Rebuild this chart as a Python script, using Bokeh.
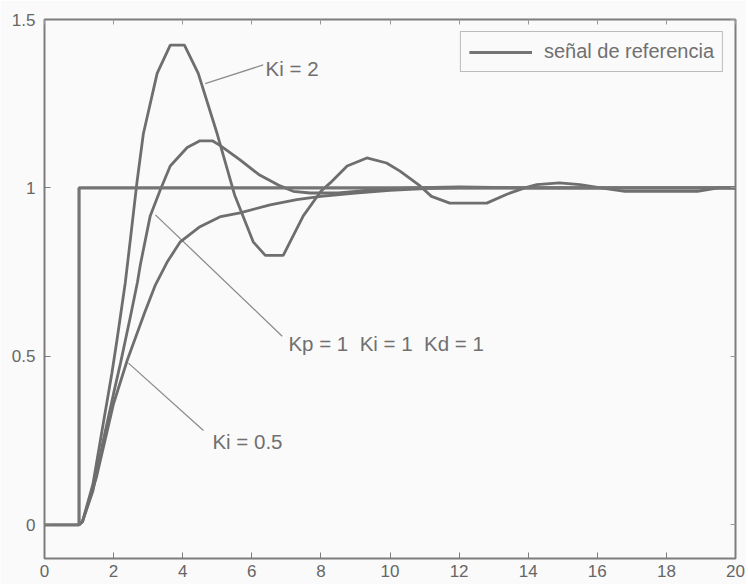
from bokeh.plotting import figure
from bokeh.models import LinearAxis, Range1d, FixedTicker, Legend, LegendItem
from bokeh.core.properties import value
from bokeh.embed import file_html
from bokeh.resources import INLINE

# ---- data ----
ref_t = [0, 1, 1, 20]
ref_y = [0, 0, 1, 1]

ki2_t = [1.0, 1.1, 1.4, 1.65, 1.95, 2.1, 2.34, 2.5, 2.68, 2.86, 3.26, 3.64, 4.05, 4.45,
         5.0, 5.5, 6.04, 6.39, 6.91, 7.49, 8.0, 8.27, 8.76, 9.33, 9.9, 10.29, 10.87, 11.2,
         11.73, 12.8, 13.4, 13.9, 14.25, 14.9, 15.5, 16.1, 16.8, 18.9, 19.5, 20.0]
ki2_y = [0.0, 0.01, 0.12, 0.27, 0.45, 0.55, 0.72, 0.86, 1.02, 1.16, 1.34, 1.424, 1.424, 1.34,
         1.16, 0.98, 0.84, 0.80, 0.80, 0.917, 0.99, 1.015, 1.065, 1.089, 1.074, 1.05, 1.006, 0.975,
         0.955, 0.955, 0.982, 1.0, 1.01, 1.015, 1.01, 1.0, 0.99, 0.99, 1.0, 1.0]

ki1_t = [1.0, 1.1, 1.4, 1.7, 2.0, 2.2, 2.49, 2.69, 2.77, 3.06, 3.35, 3.64, 4.13, 4.5, 4.86,
         5.1, 5.66, 6.2, 6.82, 7.2, 7.69, 8.5, 9.0, 9.5, 10.5, 12.0, 14.0, 20.0]
ki1_y = [0.0, 0.01, 0.1, 0.25, 0.39, 0.48, 0.62, 0.72, 0.77, 0.917, 0.994, 1.065, 1.12, 1.14, 1.14,
         1.125, 1.083, 1.04, 1.006, 0.99, 0.985, 0.985, 0.99, 0.995, 1.0, 1.003, 1.0, 1.0]

ki05_t = [1.0, 1.1, 1.5, 2.0, 2.4, 2.9, 3.2, 3.55, 3.93, 4.5, 5.1, 5.66, 6.53, 7.3, 8.0,
          9.0, 10.0, 11.0, 12.0, 20.0]
ki05_y = [0.0, 0.01, 0.14, 0.36, 0.49, 0.63, 0.71, 0.78, 0.84, 0.885, 0.915, 0.926, 0.95, 0.965, 0.975,
          0.985, 0.993, 0.998, 1.0, 1.0]

x_ticks = [0, 2, 4, 6, 8, 10, 12, 14, 16, 18, 20]
y_ticks = [0, 0.5, 1, 1.5]
y_tick_labels = ["0", "0.5", "1", "1.5"]

# annotation texts and leader lines
NB = "\u00a0"
ann_text = ["Ki = 2", "Kp = 1" + NB + " Ki = 1" + NB + " Kd = 1", "Ki = 0.5"]
ann_x = [6.40, 7.06, 4.86]
ann_y = [1.356, 0.537, 0.246]
lead_x0 = [4.65, 3.21, 2.43]
lead_y0 = [1.31, 0.92, 0.48]
lead_x1 = [6.33, 6.88, 4.60]
lead_y1 = [1.365, 0.56, 0.28]

# ---- figure ----
FONT = "Liberation Sans"
LINE = "#6e6e6e"
TXT = "#707070"
BG = "#fafafa"

p = figure(width=746, height=584, x_range=Range1d(0, 20), y_range=Range1d(-0.1, 1.5),
           output_backend="svg", toolbar_location=None,
           min_border_left=44, min_border_right=11, min_border_top=19, min_border_bottom=26)
p.background_fill_color = BG
p.border_fill_color = BG
p.outline_line_color = "#7d7d7d"
p.outline_line_width = 2
p.xgrid.visible = False
p.ygrid.visible = False

for ax in (p.xaxis[0], p.yaxis[0]):
    ax.axis_line_color = None
    ax.major_tick_in = 6
    ax.major_tick_out = 0
    ax.major_tick_line_color = "#7d7d7d"
    ax.minor_tick_line_color = None
    ax.major_label_text_font = FONT
    ax.major_label_text_font_size = "17px"
    ax.major_label_text_color = "#666666"
p.xaxis.ticker = FixedTicker(ticks=x_ticks)
p.yaxis.ticker = FixedTicker(ticks=y_ticks)
p.yaxis.major_label_overrides = {t: s for t, s in zip(y_ticks, y_tick_labels)}
p.xaxis.major_label_standoff = 6
p.yaxis.major_label_standoff = 9

top = LinearAxis(ticker=FixedTicker(ticks=x_ticks),
                 major_label_overrides={t: "" for t in x_ticks},
                 major_label_text_font_size="1px",
                 axis_line_color=None, major_tick_in=5, major_tick_out=0,
                 major_tick_line_color="#9a9a9a", minor_tick_line_color=None,
                 major_label_standoff=0)
right = LinearAxis(ticker=FixedTicker(ticks=y_ticks),
                   major_label_overrides={t: "" for t in y_ticks},
                   major_label_text_font_size="1px",
                   axis_line_color=None, major_tick_in=5, major_tick_out=0,
                   major_tick_line_color="#9a9a9a", minor_tick_line_color=None,
                   major_label_standoff=0)
p.add_layout(top, "above")
p.add_layout(right, "right")

# leader lines
p.segment(x0=lead_x0, y0=lead_y0, x1=lead_x1, y1=lead_y1, line_color="#8c8c8c", line_width=1.3)

# curves
p.line(ki05_t, ki05_y, line_color=LINE, line_width=2.8)
p.line(ki1_t, ki1_y, line_color=LINE, line_width=2.8)
p.line(ki2_t, ki2_y, line_color=LINE, line_width=2.8)
ref = p.line(ref_t, ref_y, line_color="#747474", line_width=3.2)

p.text(x=ann_x, y=ann_y, text=ann_text, text_font=value(FONT), text_font_size="20.5px",
       text_color=TXT, text_baseline="middle", text_align="left")

legend = Legend(items=[LegendItem(label="señal de referencia", renderers=[ref])],
                location="top_right", margin=12, padding=8, glyph_width=63, glyph_height=18,
                label_height=18, label_standoff=12, label_text_font=FONT,
                label_text_font_size="20px", label_text_color=TXT,
                border_line_color="#7d7d7d", border_line_width=1.5,
                background_fill_color=BG, background_fill_alpha=1.0)
p.add_layout(legend)

open("out.html", "w").write(file_html(p, INLINE))
